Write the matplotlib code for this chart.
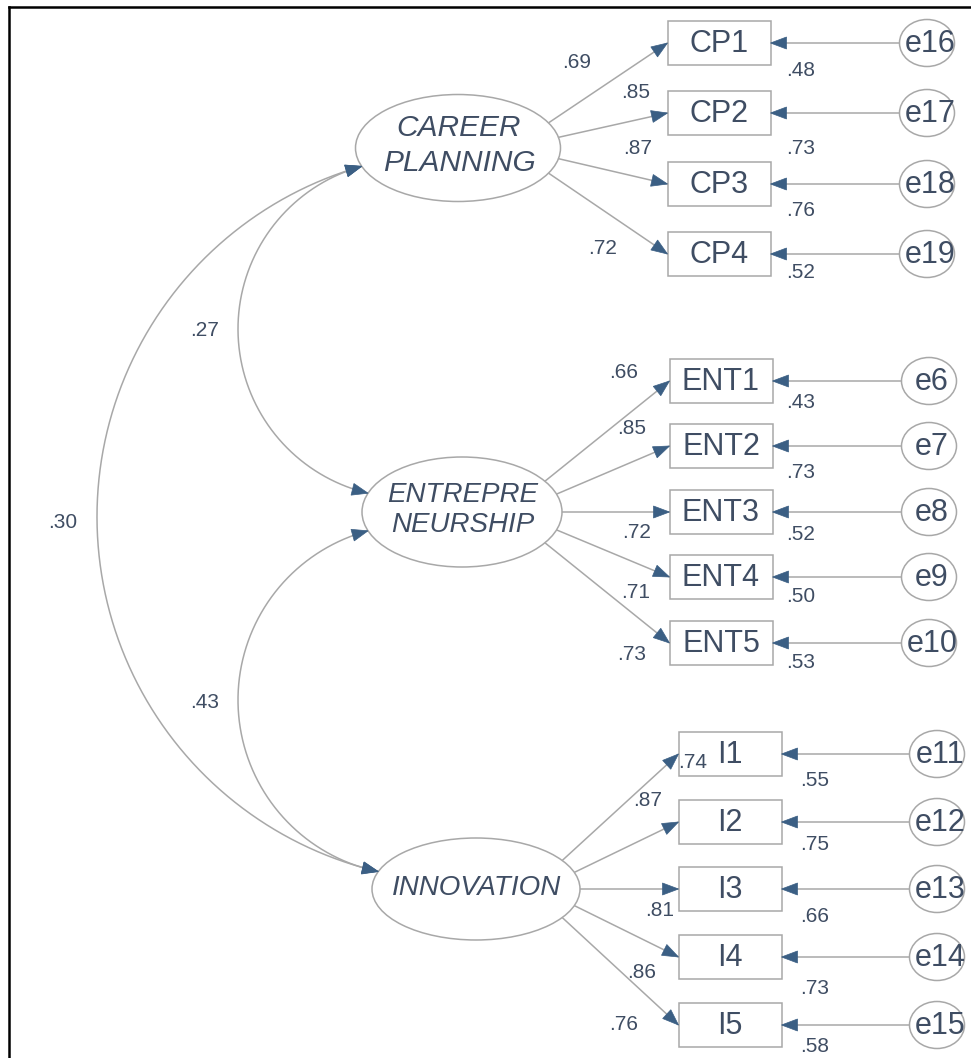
import numpy as np
import matplotlib
matplotlib.use("Agg")
import matplotlib.pyplot as plt
from matplotlib.patches import Ellipse, Rectangle, Polygon

plt.rcParams['font.family'] = ['Liberation Sans', 'DejaVu Sans']

# -------------------------------------------------------
# Datos del modelo (cargas estandarizadas y R2)
# -------------------------------------------------------
latentes = ["CAREER\nPLANNING", "ENTREPRE\nNEURSHIP", "INNOVATION"]

cp_items    = ["CP1", "CP2", "CP3", "CP4"]
cp_errores  = ["e16", "e17", "e18", "e19"]
cp_cargas   = [0.69, 0.85, 0.87, 0.72]
cp_r2       = [0.48, 0.73, 0.76, 0.52]

ent_items   = ["ENT1", "ENT2", "ENT3", "ENT4", "ENT5"]
ent_errores = ["e6", "e7", "e8", "e9", "e10"]
ent_cargas  = [0.66, 0.85, 0.72, 0.71, 0.73]
ent_r2      = [0.43, 0.73, 0.52, 0.50, 0.53]

inn_items   = ["I1", "I2", "I3", "I4", "I5"]
inn_errores = ["e11", "e12", "e13", "e14", "e15"]
inn_cargas  = [0.74, 0.87, 0.81, 0.86, 0.76]
inn_r2      = [0.55, 0.75, 0.66, 0.73, 0.58]

# covarianzas entre latentes: (desde, hasta, valor)
cov_pares   = [(0, 1), (1, 2), (0, 2)]
cov_valores = [0.27, 0.43, 0.30]

# -------------------------------------------------------
# Layout (pixeles, eje y hacia abajo)
# -------------------------------------------------------
W, H = 971, 1058
COL_TEXTO = "#3f4d63"
COL_LINEA = "#a8a8a8"
COL_FLECHA = "#3b5f84"
HEAD_LEN, HEAD_W = 16, 12

lat_centro = [(458, 148), (462, 512), (476, 889)]
lat_tam    = [(205, 107), (200, 110), (208, 102)]
lat_fuente = [21.5, 20, 20]
lat_texto_y = [(128, 163), (495, 525), (888,)]

box_x   = [719, 721, 730]
box_w, box_h = 103, 44
box_y   = [[43, 113, 184, 254],
           [381, 446, 512, 577, 643],
           [754, 822, 889, 957, 1025]]
err_x   = [927, 929, 937]
err_w, err_h = 55, 47
ang_4 = [-28, -11.5, 11.5, 28]
ang_5 = [-34, -19, 0, 19, 34]

carga_pos = [[(577, 62), (636, 92), (638, 148), (603, 248)],
             [(624, 372), (632, 429), (637, 532), (636, 593), (632, 655)],
             [(693, 762), (648, 800), (660, 910), (642, 972), (624, 1024)]]
r2_x = [801, 801, 815]
r2_y = [[70, 148, 210, 272],
        [402, 472, 535, 596, 662],
        [780, 844, 916, 988, 1047]]

cov_izq   = [238, 238, 97]
cov_txt   = [(205, 330), (205, 703), (63, 523)]


def punto_elipse(i, ang):
    cx, cy = lat_centro[i]
    a, b = lat_tam[i][0] / 2, lat_tam[i][1] / 2
    t = np.radians(ang)
    return np.array([cx + a * np.cos(t), cy + b * np.sin(t)])


def punta(ax, tip, direc):
    d = np.asarray(direc, float)
    d = d / np.hypot(*d)
    n = np.array([-d[1], d[0]])
    base = tip - d * HEAD_LEN
    pts = [tip, base + n * HEAD_W / 2, base - n * HEAD_W / 2]
    ax.add_patch(Polygon(pts, closed=True, facecolor=COL_FLECHA,
                         edgecolor=COL_FLECHA, lw=0.5, zorder=5))


def flecha(ax, p0, p1):
    p0 = np.asarray(p0, float)
    p1 = np.asarray(p1, float)
    ax.plot([p0[0], p1[0]], [p0[1], p1[1]], color=COL_LINEA, lw=1.1, zorder=2)
    punta(ax, p1, p1 - p0)


def circulo_3(p1, p2, p3):
    ax_, ay = p1
    bx, by = p2
    cx, cy = p3
    d = 2 * (ax_ * (by - cy) + bx * (cy - ay) + cx * (ay - by))
    ux = ((ax_**2 + ay**2) * (by - cy) + (bx**2 + by**2) * (cy - ay) + (cx**2 + cy**2) * (ay - by)) / d
    uy = ((ax_**2 + ay**2) * (cx - bx) + (bx**2 + by**2) * (ax_ - cx) + (cx**2 + cy**2) * (bx - ax_)) / d
    return np.array([ux, uy]), np.hypot(ax_ - ux, ay - uy)


def arco(ax, p1, p3, x_izq):
    p2 = np.array([x_izq, (p1[1] + p3[1]) / 2])
    c, r = circulo_3(p1, p2, p3)
    a1 = np.arctan2(p1[1] - c[1], p1[0] - c[0])
    a2 = a1 + (np.arctan2(p2[1] - c[1], p2[0] - c[0]) - a1) % (2 * np.pi)
    a3 = a1 + (np.arctan2(p3[1] - c[1], p3[0] - c[0]) - a1) % (2 * np.pi)
    if a2 > a3:
        a3 = a3 - 2 * np.pi
    t = np.linspace(a1, a3, 300)
    xs = c[0] + r * np.cos(t)
    ys = c[1] + r * np.sin(t)
    ax.plot(xs, ys, color=COL_LINEA, lw=1.1, zorder=2)
    punta(ax, np.array([xs[0], ys[0]]), [xs[0] - xs[3], ys[0] - ys[3]])
    punta(ax, np.array([xs[-1], ys[-1]]), [xs[-1] - xs[-4], ys[-1] - ys[-4]])


def fmt(v):
    return f"{v:.2f}".lstrip("0")


fig = plt.figure(figsize=(W / 100, H / 100), dpi=100)
ax = fig.add_axes([0, 0, 1, 1])
ax.set_xlim(0, W)
ax.set_ylim(H, 0)
ax.axis("off")

# marco negro
ax.plot([9, 9], [H, 7], color="black", lw=1.8, zorder=1)
ax.plot([9, W], [7, 7], color="black", lw=1.8, zorder=1)

bloques = [(cp_items, cp_errores, cp_cargas, cp_r2),
           (ent_items, ent_errores, ent_cargas, ent_r2),
           (inn_items, inn_errores, inn_cargas, inn_r2)]

for i, (items, errores, cargas, r2) in enumerate(bloques):
    cx, cy = lat_centro[i]
    ax.add_patch(Ellipse((cx, cy), lat_tam[i][0], lat_tam[i][1], facecolor="white",
                         edgecolor=COL_LINEA, lw=1.1, zorder=3))
    lineas = latentes[i].split("\n")
    for txt, ty in zip(lineas, lat_texto_y[i]):
        ax.text(cx + 1, ty, txt, ha="center", va="center", style="italic",
                fontsize=lat_fuente[i], color=COL_TEXTO, zorder=6)

    angulos = ang_4 if len(items) == 4 else ang_5
    for j in range(len(items)):
        by = box_y[i][j]
        bx = box_x[i]
        ax.add_patch(Rectangle((bx - box_w / 2, by - box_h / 2), box_w, box_h,
                               facecolor="white", edgecolor=COL_LINEA, lw=1.1, zorder=3))
        ax.text(bx, by + 1, items[j], ha="center", va="center", fontsize=22,
                color=COL_TEXTO, zorder=6)

        # carga factorial
        flecha(ax, punto_elipse(i, angulos[j]), (bx - box_w / 2, by))
        ax.text(carga_pos[i][j][0], carga_pos[i][j][1], fmt(cargas[j]), ha="center",
                va="center", fontsize=15, color=COL_TEXTO, zorder=7)

        # error
        ex = err_x[i]
        ax.add_patch(Ellipse((ex, by), err_w, err_h, facecolor="white",
                             edgecolor=COL_LINEA, lw=1.1, zorder=3))
        ax.text(ex + 3, by + 1, errores[j], ha="center", va="center", fontsize=22,
                color=COL_TEXTO, zorder=6)
        flecha(ax, (ex - err_w / 2, by), (bx + box_w / 2, by))
        ax.text(r2_x[i], r2_y[i][j], fmt(r2[j]), ha="center", va="center",
                fontsize=15, color=COL_TEXTO, zorder=7)

# covarianzas
for k, (a, b) in enumerate(cov_pares):
    arco(ax, punto_elipse(a, 160), punto_elipse(b, 200), cov_izq[k])
    ax.text(cov_txt[k][0], cov_txt[k][1], fmt(cov_valores[k]), ha="center",
            va="center", fontsize=15, color=COL_TEXTO, zorder=7)

fig.savefig("out.png", dpi=100)
